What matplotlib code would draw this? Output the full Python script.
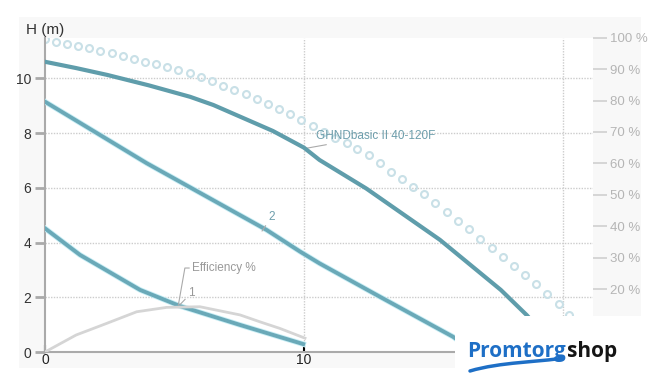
import matplotlib
matplotlib.use('Agg')
import matplotlib.pyplot as plt
from matplotlib.patches import Rectangle, PathPatch
from matplotlib.path import Path

plt.rcParams['font.family'] = ['Liberation Sans', 'DejaVu Sans']

# pump curve GHNDbasic II 40-120F, Q (m3/h) vs H (m)
pump_q = [0, 1.2, 2.4, 4.0, 5.6, 6.5, 8.8, 10.0, 10.6, 12.4, 15.25, 17.6, 18.6, 19.3, 19.8]
pump_h = [10.61, 10.38, 10.13, 9.75, 9.33, 9.03, 8.08, 7.47, 7.02, 5.98, 4.1, 2.27, 1.35, 0.6, 0.0]

# curve 2
c2_q = [0, 3.93, 8.56, 9.85, 10.6, 12.93, 15.75, 16.6]
c2_h = [9.15, 6.9, 4.46, 3.67, 3.24, 2.02, 0.56, 0.0]

# curve 1
c1_q = [0, 1.35, 3.67, 5.21, 7.53, 9.97]
c1_h = [4.52, 3.55, 2.27, 1.68, 0.99, 0.29]

# efficiency, %
eff_q = [0, 1.2, 2.38, 3.54, 4.7, 5.98, 7.53, 8.3, 9.07, 10.04]
eff_pct = [0, 5.4, 9.1, 12.8, 14.2, 14.4, 11.8, 9.6, 7.5, 4.4]

# dotted (circles) curve
dot_q = [0, 0.42, 0.84, 1.26, 1.70, 2.12, 2.58, 3.0, 3.45, 3.86, 4.29, 4.70, 5.15, 5.6,
         6.02, 6.44, 6.86, 7.30, 7.75, 8.18, 8.6, 9.04, 9.46, 9.88, 10.33, 10.77, 11.2,
         11.65, 12.06, 12.51, 12.93, 13.35, 13.77, 14.2, 14.63, 15.06, 15.51, 15.93,
         16.37, 16.8, 17.25, 17.67, 18.11, 18.53, 18.95, 19.37, 19.83, 20.25, 20.67]
dot_h = [11.44, 11.35, 11.26, 11.19, 11.10, 11.0, 10.92, 10.82, 10.71, 10.61, 10.52,
         10.41, 10.31, 10.19, 10.07, 9.92, 9.74, 9.58, 9.42, 9.25, 9.06, 8.88, 8.69,
         8.48, 8.27, 8.03, 7.81, 7.63, 7.41, 7.2, 6.92, 6.59, 6.33, 6.04, 5.77, 5.46,
         5.13, 4.8, 4.49, 4.13, 3.81, 3.48, 3.14, 2.82, 2.49, 2.12, 1.74, 1.35, 0.95]

x_ticks = [0, 10]          # "20" sits under the logo
x_grid = [10, 20]
y_ticks = [0, 2, 4, 6, 8, 10]
pct_ticks = [10, 20, 30, 40, 50, 60, 70, 80, 90, 100]

W, H = 661, 389
fig = plt.figure(figsize=(W / 100, H / 100), dpi=100)
fig.patch.set_facecolor('white')
fig.patches.append(Rectangle((19 / W, 1 - 368 / H), (641 - 19) / W, (368 - 17) / H,
                             transform=fig.transFigure, facecolor='#f8f8f8',
                             edgecolor='none', zorder=-10))

ax = fig.add_axes([45 / W, 1 - 352 / H, (593 - 45) / W, (352 - 37.7) / H])
ax.set_facecolor('white')
ax.set_xlim(0, 21.16)
ax.set_ylim(0, 11.49)

ax2 = ax.twinx()
ax2.set_ylim(0, 100)
ax2.set_yticks(pct_ticks)
ax2.set_yticklabels([f'{p} %' for p in pct_ticks])
ax2.tick_params(axis='y', direction='out', length=10, width=1.2, color='#d0d0d0',
                labelcolor='#b5b5b5', labelsize=9.5, pad=2)
for s in ax2.spines.values():
    s.set_visible(False)

# grid
for y in y_ticks[1:]:
    ax.axhline(y, color='#cccccc', lw=1, ls=(0, (1, 1)), zorder=0)
for x in x_grid:
    ax.axvline(x, color='#cccccc', lw=1, ls=(0, (1, 1)), zorder=0)

ax2.plot(eff_q, eff_pct, color='#d5d5d5', lw=2, zorder=2)
ax.plot(dot_q, dot_h, ls='none', marker='o', markersize=5, markerfacecolor='none',
        markeredgecolor='#c9e0e7', markeredgewidth=1.5, zorder=2)
for q, h in [(c1_q, c1_h), (c2_q, c2_h)]:
    ax.plot(q, h, color='#c8eef5', lw=4.0, zorder=3, solid_joinstyle='round')
    ax.plot(q, h, color='#6aa9b8', lw=2.8, zorder=3, solid_joinstyle='round')
ax.plot(pump_q, pump_h, color='#5f9dab', lw=3, zorder=4, solid_joinstyle='round')

# labels on curves
leader = dict(arrowstyle='-', color='#aaaaaa', lw=0.8, shrinkA=0, shrinkB=0)
ax.annotate('GHNDbasic II 40-120F', xy=(10.1, 7.45), xytext=(10.46, 7.9),
            color='#6d9eac', fontsize=8.5, va='center', arrowprops=leader)
ax.annotate('2', xy=(8.38, 4.42), xytext=(8.62, 4.94), color='#6d9eac', fontsize=8.5,
            va='center', arrowprops=leader)
ax.annotate('Efficiency %', xy=(5.15, 1.72), xytext=(5.68, 3.07), color='#999999',
            fontsize=8.5, va='center',
            arrowprops=dict(leader, connectionstyle='angle,angleA=0,angleB=80,rad=0'))
ax.annotate('1', xy=(5.2, 1.72), xytext=(5.52, 2.16), color='#999999', fontsize=8.5,
            va='center', arrowprops=leader)

# axes styling
for s in ['top', 'right']:
    ax.spines[s].set_visible(False)
ax.spines['left'].set_color('#aaaaaa')
ax.spines['left'].set_linewidth(1.5)
ax.spines['bottom'].set_color('#aaaaaa')
ax.spines['bottom'].set_linewidth(1.5)
ax.set_yticks(y_ticks)
ax.set_xticks(x_ticks)
ax.tick_params(axis='y', direction='out', length=7, width=2, color='#aaaaaa',
               labelcolor='#333333', labelsize=10, pad=3)
ax.tick_params(axis='x', direction='in', length=5, width=1.5, color='black',
               labelcolor='#222222', labelsize=10, pad=1)

fig.text(26 / W, 1 - 30 / H, 'H (m)', fontsize=11, color='#333333', va='center')

# logo
fig.patches.append(Rectangle((455 / W, 1 - 374 / H), (661 - 455) / W, (374 - 316) / H,
                             transform=fig.transFigure, facecolor='white',
                             edgecolor='none', zorder=20))
t1 = fig.text(467 / W, 1 - 357 / H, 'Promtorg', fontsize=15, fontweight='bold',
              color='#1e6fc6', va='baseline', zorder=21, family='Open Sans')
fig.canvas.draw()
bb = t1.get_window_extent()
fig.text((bb.x1 + 1) / W, 1 - 357 / H, 'shop', fontsize=15, fontweight='bold',
         color='#151515', va='baseline', zorder=21, family='Open Sans')
verts = [(470 / W, 1 - 371 / H), (500 / W, 1 - 362 / H), (540 / W, 1 - 362 / H),
         (563 / W, 1 - 358 / H)]
swoosh = Path(verts, [Path.MOVETO, Path.CURVE4, Path.CURVE4, Path.CURVE4])
fig.patches.append(PathPatch(swoosh, transform=fig.transFigure, facecolor='none',
                             edgecolor='#1e6fc6', lw=2.5, zorder=21, capstyle='round'))

fig.savefig('out.png', dpi=100)
